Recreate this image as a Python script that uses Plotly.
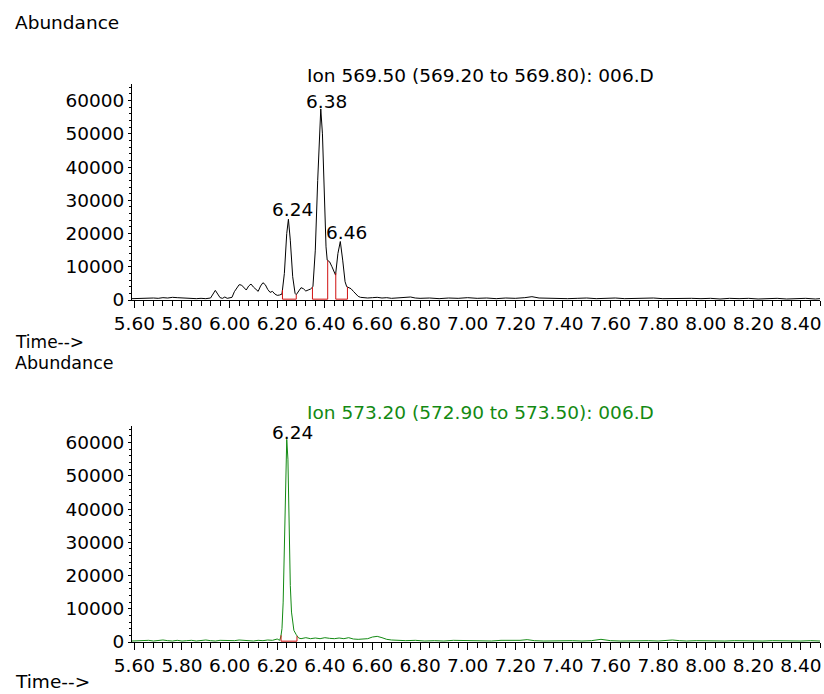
import numpy as np
import plotly.graph_objects as go

# ---------------- data ----------------
# Ion 569.50 trace (time in min, abundance)
t569 = [5.59, 5.62, 5.65, 5.68, 5.70, 5.72, 5.74, 5.76, 5.78, 5.80, 5.82, 5.84, 5.86, 5.88,
        5.90, 5.92, 5.93, 5.94, 5.95, 5.96, 5.97, 5.98, 5.99, 6.00, 6.01, 6.02, 6.04, 6.05,
        6.06, 6.07, 6.08, 6.09, 6.10, 6.11, 6.12, 6.13, 6.14, 6.15, 6.16, 6.17, 6.18, 6.19,
        6.20, 6.21, 6.22, 6.23, 6.24, 6.247, 6.255, 6.265, 6.275, 6.28, 6.29, 6.30, 6.31,
        6.32, 6.33, 6.34, 6.35, 6.36, 6.37, 6.38, 6.383, 6.39, 6.40, 6.405, 6.41, 6.42, 6.43,
        6.445, 6.455, 6.465, 6.475, 6.485, 6.492, 6.50, 6.51, 6.52, 6.53, 6.54, 6.55, 6.56,
        6.58, 6.60, 6.62, 6.64, 6.66, 6.68, 6.70, 6.72, 6.74, 6.76, 6.78, 6.80, 6.84, 6.88,
        6.92, 6.96, 7.00, 7.04, 7.08, 7.12, 7.16, 7.20, 7.24, 7.27, 7.30, 7.34, 7.38, 7.42,
        7.46, 7.50, 7.54, 7.58, 7.62, 7.66, 7.70, 7.74, 7.78, 7.82, 7.86, 7.90, 7.94, 7.98,
        8.02, 8.06, 8.10, 8.14, 8.18, 8.22, 8.26, 8.30, 8.34, 8.38, 8.42, 8.46, 8.48]
a569 = [400, 500, 450, 600, 500, 700, 600, 800, 700, 600, 500, 600, 400, 500,
        400, 600, 1800, 2900, 1800, 700, 500, 900, 500, 600, 800, 2500, 4600, 4500,
        3600, 3000, 4200, 4800, 3900, 3200, 2600, 4200, 5200, 4600, 3200, 2300, 2600, 1800,
        1400, 1500, 1800, 8000, 20000, 24300, 18000, 7000, 2000, 1600, 2500, 3700, 3400,
        2700, 3000, 3300, 4000, 15000, 36000, 56000, 57500, 50000, 28000, 16000, 12000, 11500, 10000,
        7500, 14000, 17600, 12000, 5500, 4000, 3800, 3400, 2600, 1800, 1100, 800, 700,
        600, 700, 800, 600, 700, 500, 600, 800, 1000, 900, 600, 500, 600, 400,
        600, 500, 700, 500, 600, 400, 600, 500, 700, 1000, 600, 500, 600, 400,
        500, 600, 400, 500, 600, 400, 500, 400, 600, 400, 500, 400, 500, 400,
        500, 300, 500, 400, 500, 300, 400, 500, 300, 400, 500, 300, 400]

# Ion 573.20 trace
t573 = [5.59, 5.62, 5.64, 5.66, 5.68, 5.70, 5.72, 5.74, 5.76, 5.78, 5.80, 5.82, 5.84, 5.86,
        5.88, 5.90, 5.92, 5.94, 5.96, 5.98, 6.00, 6.02, 6.04, 6.06, 6.08, 6.10, 6.12, 6.14,
        6.16, 6.18, 6.20, 6.21, 6.215, 6.22, 6.225, 6.23, 6.235, 6.24, 6.245, 6.25, 6.255,
        6.26, 6.265, 6.27, 6.28, 6.285, 6.29, 6.30, 6.32, 6.34, 6.36, 6.38, 6.40, 6.42, 6.44,
        6.46, 6.48, 6.50, 6.52, 6.54, 6.56, 6.58, 6.60, 6.62, 6.64, 6.66, 6.68, 6.70, 6.74,
        6.78, 6.82, 6.86, 6.90, 6.94, 6.98, 7.02, 7.06, 7.10, 7.14, 7.18, 7.22, 7.25, 7.28,
        7.32, 7.36, 7.40, 7.44, 7.48, 7.52, 7.56, 7.60, 7.64, 7.68, 7.72, 7.76, 7.80, 7.83,
        7.86, 7.89, 7.92, 7.96, 8.00, 8.04, 8.08, 8.12, 8.16, 8.20, 8.24, 8.28, 8.32, 8.36,
        8.40, 8.44, 8.48]
a573 = [300, 400, 300, 500, 300, 400, 600, 400, 300, 500, 300, 400, 500, 300,
        400, 600, 400, 300, 500, 400, 300, 400, 600, 500, 400, 300, 500, 400,
        600, 500, 900, 500, 1500, 4000, 12000, 30000, 52000, 61000, 55000, 33000, 17000,
        9000, 5000, 3500, 2200, 1500, 1200, 1000, 1300, 1000, 1200, 1000, 1300, 1100, 1000,
        1200, 1000, 1300, 900, 800, 900, 1000, 1500, 1700, 1300, 800, 600, 500, 400,
        500, 300, 400, 300, 500, 400, 300, 400, 300, 500, 400, 500, 700, 400,
        300, 400, 300, 400, 300, 400, 800, 400, 300, 400, 300, 400, 300, 400,
        600, 400, 300, 400, 300, 400, 300, 400, 300, 400, 300, 400, 300, 400,
        300, 400, 300]

# integration boundaries (start, end) for each peak
int569 = [(6.222, 6.280), (6.348, 6.412), (6.446, 6.495)]
int573 = [(6.216, 6.283)]

# peak retention-time labels: (text, time, abundance)
lab569 = [("6.24", 6.266, 27200), ("6.38", 6.405, 59600), ("6.46", 6.489, 20200)]
lab573 = [("6.24", 6.264, 63000)]

title569 = "Ion 569.50 (569.20 to 569.80): 006.D"
title573 = "Ion 573.20 (572.90 to 573.50): 006.D"
xticks = [5.60, 5.80, 6.00, 6.20, 6.40, 6.60, 6.80, 7.00, 7.20, 7.40, 7.60, 7.80, 8.00, 8.20, 8.40]
yticks = [0, 10000, 20000, 30000, 40000, 50000, 60000]

# ---------------- figure ----------------
W, H = 824, 694
FONT = "DejaVu Sans"
FS = 18.5
BLACK = "#000000"
GREEN = "#138a13"
RED = "#d01010"

def px(x):
    return x / W

def py(y):
    return 1 - y / H

fig = go.Figure()

def add_panel(t, a, ints, labs, color, xa, ya):
    fig.add_trace(go.Scatter(x=t, y=a, mode="lines", line=dict(color=color, width=1),
                             xaxis=xa, yaxis=ya, hoverinfo="skip", showlegend=False))
    for s, e in ints:
        ys = float(np.interp(s, t, a))
        ye = float(np.interp(e, t, a))
        fig.add_trace(go.Scatter(x=[s, s, e, e], y=[ys, 250, 250, ye], mode="lines",
                                 line=dict(color=RED, width=1), xaxis=xa, yaxis=ya,
                                 hoverinfo="skip", showlegend=False))
    for txt, lx, ly in labs:
        fig.add_annotation(x=lx, y=ly, xref=xa, yref=ya, text=txt, showarrow=False,
                           xanchor="center", yanchor="middle",
                           font=dict(family=FONT, size=FS, color=BLACK))

add_panel(t569, a569, int569, lab569, BLACK, "x", "y")
add_panel(t573, a573, int573, lab573, GREEN, "x2", "y2")

xcommon = dict(range=[5.59, 8.48], domain=[px(132), px(820)], showgrid=False, zeroline=False,
               automargin=False,
               showline=True, linecolor=BLACK, linewidth=1, ticks="outside", ticklen=7,
               tickcolor=BLACK, tickwidth=1, tickvals=xticks, tickformat=".2f",
               tickfont=dict(family=FONT, size=FS, color=BLACK), layer="below traces",
               minor=dict(dtick=0.04, tick0=5.60, ticks="outside", ticklen=5,
                          tickcolor=BLACK, showgrid=False))
ycommon = dict(range=[0, 65000], showgrid=False, zeroline=False, showline=True,
               automargin=False,
               linecolor=BLACK, linewidth=1, ticks="outside", ticklen=3, tickcolor=BLACK,
               tickvals=yticks, tickformat="d",
               tickfont=dict(family=FONT, size=FS, color=BLACK), layer="below traces",
               minor=dict(dtick=2000, tick0=0, ticks="outside", ticklen=2,
                          tickcolor=BLACK, showgrid=False))

fig.update_layout(
    width=W, height=H, margin=dict(l=0, r=0, t=0, b=0, pad=0, autoexpand=False),
    paper_bgcolor="white", plot_bgcolor="white", showlegend=False,
    xaxis=dict(xcommon, anchor="y"),
    yaxis=dict(ycommon, anchor="x", domain=[py(300), py(84)]),
    xaxis2=dict(xcommon, anchor="y2"),
    yaxis2=dict(ycommon, anchor="x2", domain=[py(642), py(426)]),
)

def text(x, y, s, color=BLACK, xanchor="left", size=FS):
    fig.add_annotation(x=px(x), y=py(y), xref="paper", yref="paper", text=s,
                       showarrow=False, xanchor=xanchor, yanchor="middle",
                       font=dict(family=FONT, size=size, color=color))

text(13, 22, "Abundance")
text(13, 342, "Time-->", size=17)
text(13, 363, "Abundance", size=17.5)
text(13, 681, "Time-->")
text(305, 75, title569)
text(305, 412, title573, color=GREEN)

fig.write_html("out.html", config={"displayModeBar": False},
               post_script="document.body.style.margin='0';document.body.style.overflow='hidden';")
